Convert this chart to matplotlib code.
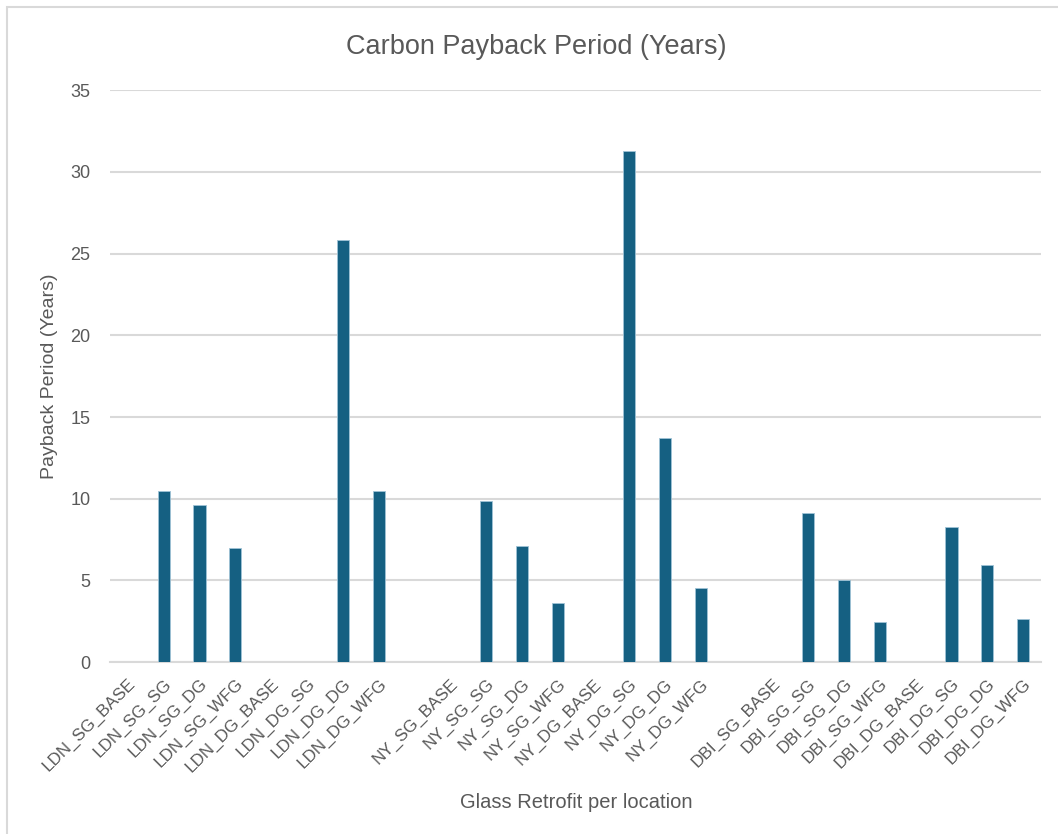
import matplotlib
matplotlib.use("Agg")
import matplotlib.pyplot as plt
from matplotlib.patches import Rectangle

categories = [
    "LDN_SG_BASE", "LDN_SG_SG", "LDN_SG_DG", "LDN_SG_WFG",
    "LDN_DG_BASE", "LDN_DG_SG", "LDN_DG_DG", "LDN_DG_WFG",
    "",
    "NY_SG_BASE", "NY_SG_SG", "NY_SG_DG", "NY_SG_WFG",
    "NY_DG_BASE", "NY_DG_SG", "NY_DG_DG", "NY_DG_WFG",
    "",
    "DBI_SG_BASE", "DBI_SG_SG", "DBI_SG_DG", "DBI_SG_WFG",
    "DBI_DG_BASE", "DBI_DG_SG", "DBI_DG_DG", "DBI_DG_WFG",
]
payback = [
    0, 10.5, 9.6, 7.0,
    0, 0, 25.8, 10.45,
    0,
    0, 9.85, 7.08, 3.65,
    0, 31.25, 13.7, 4.52,
    0,
    0, 9.12, 5.05, 2.45,
    0, 8.26, 5.96, 2.67,
]
yticks = [0, 5, 10, 15, 20, 25, 30, 35]

TEXT = "#595959"
GRID = "#D9D9D9"
BAR = "#156082"

plt.rcParams["font.family"] = ["Liberation Sans", "DejaVu Sans"]

fig = plt.figure(figsize=(10.58, 8.34), dpi=100)
ax = fig.add_axes([0.104, 0.206, 0.880, 0.686])

x = list(range(len(categories)))
ax.bar(x, payback, width=0.34, color=BAR, edgecolor="#9fc3d6", linewidth=0.6, zorder=3)

ax.set_xlim(-0.5, len(categories) - 0.5)
ax.set_ylim(0, 35)
ax.set_yticks(yticks)
ax.set_yticklabels([str(v) for v in yticks])
ax.set_xticks(x)
ax.set_xticklabels(categories, rotation=45, ha="right", va="top", rotation_mode="anchor")

ax.grid(axis="y", color=GRID, linewidth=1.5, zorder=0)
for s in ["top", "right", "left"]:
    ax.spines[s].set_visible(False)
ax.spines["bottom"].set_color(GRID)
ax.spines["bottom"].set_linewidth(1.5)
ax.tick_params(axis="both", length=0, colors=TEXT)
ax.tick_params(axis="y", pad=14, labelsize=13)
ax.tick_params(axis="x", pad=10, labelsize=12.3)

fig.text(0.507, 0.944, "Carbon Payback Period (Years)", ha="center", va="center",
         fontsize=19.5, color=TEXT)
fig.text(0.545, 0.038, "Glass Retrofit per location", ha="center", va="center",
         fontsize=14.5, color=TEXT)
fig.text(0.047, 0.549, "Payback Period (Years)", ha="center", va="center",
         rotation=90, fontsize=14, color=TEXT)

fig.patches.append(Rectangle((7 / 1058, -0.1), 1.2, 1 - 7 / 834 + 0.1,
                             transform=fig.transFigure, fill=False,
                             edgecolor=GRID, linewidth=1.5))

fig.savefig("out.png", dpi=100, facecolor="white")
